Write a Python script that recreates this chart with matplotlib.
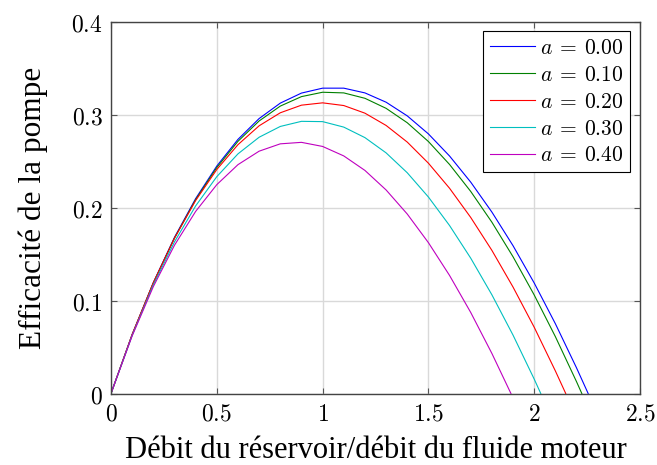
import matplotlib
matplotlib.use("Agg")
import matplotlib.pyplot as plt

plt.rcParams["mathtext.fontset"] = "cm"

# Flow ratio samples (reservoir flow / motive flow) for each curve
x_a000 = [0.0, 0.1, 0.2, 0.3, 0.4, 0.5, 0.6, 0.7, 0.8, 0.9, 1.0, 1.1, 1.2,
          1.3, 1.4, 1.5, 1.6, 1.7, 1.8, 1.9, 2.0, 2.1, 2.2, 2.255]
y_a000 = [0.0, 0.0634, 0.1193, 0.1680, 0.2097, 0.2447, 0.2734, 0.2958,
          0.3124, 0.3232, 0.3285, 0.3285, 0.3234, 0.3134, 0.2987, 0.2793,
          0.2555, 0.2274, 0.1952, 0.1590, 0.1189, 0.0751, 0.0276, 0.0]

x_a010 = [0.0, 0.1, 0.2, 0.3, 0.4, 0.5, 0.6, 0.7, 0.8, 0.9, 1.0, 1.1, 1.2,
          1.3, 1.4, 1.5, 1.6, 1.7, 1.8, 1.9, 2.0, 2.1, 2.2, 2.225]
y_a010 = [0.0, 0.0632, 0.1188, 0.1672, 0.2085, 0.2431, 0.2713, 0.2932,
          0.3092, 0.3194, 0.3241, 0.3234, 0.3176, 0.3068, 0.2913, 0.2711,
          0.2464, 0.2174, 0.1843, 0.1471, 0.1060, 0.0612, 0.0127, 0.0]

x_a020 = [0.0, 0.1, 0.2, 0.3, 0.4, 0.5, 0.6, 0.7, 0.8, 0.9, 1.0, 1.1, 1.2,
          1.3, 1.4, 1.5, 1.6, 1.7, 1.8, 1.9, 2.0, 2.1, 2.149]
y_a020 = [0.0, 0.0637, 0.1192, 0.1671, 0.2076, 0.2410, 0.2677, 0.2880,
          0.3020, 0.3102, 0.3127, 0.3098, 0.3016, 0.2884, 0.2705, 0.2478,
          0.2208, 0.1894, 0.1540, 0.1145, 0.0713, 0.0243, 0.0]

x_a030 = [0.0, 0.1, 0.2, 0.3, 0.4, 0.5, 0.6, 0.7, 0.8, 0.9, 1.0, 1.1, 1.2,
          1.3, 1.4, 1.5, 1.6, 1.7, 1.8, 1.9, 2.0, 2.031]
y_a030 = [0.0, 0.0625, 0.1168, 0.1631, 0.2018, 0.2333, 0.2578, 0.2757,
          0.2873, 0.2928, 0.2925, 0.2866, 0.2753, 0.2589, 0.2375, 0.2114,
          0.1807, 0.1456, 0.1062, 0.0628, 0.0155, 0.0]

x_a040 = [0.0, 0.1, 0.2, 0.3, 0.4, 0.5, 0.6, 0.7, 0.8, 0.9, 1.0, 1.1, 1.2,
          1.3, 1.4, 1.5, 1.6, 1.7, 1.8, 1.89]
y_a040 = [0.0, 0.0620, 0.1150, 0.1595, 0.1959, 0.2247, 0.2462, 0.2607,
          0.2686, 0.2702, 0.2658, 0.2556, 0.2400, 0.2190, 0.1931, 0.1623,
          0.1270, 0.0872, 0.0431, 0.0]

series_labels = [r"$a\:=\:0.00$", r"$a\:=\:0.10$", r"$a\:=\:0.20$",
                 r"$a\:=\:0.30$", r"$a\:=\:0.40$"]
series_colors = ["b", "g", "r", "c", "m"]

x_ticks = [0, 0.5, 1, 1.5, 2, 2.5]
x_tick_labels = ["$0$", "$0.5$", "$1$", "$1.5$", "$2$", "$2.5$"]
y_ticks = [0, 0.1, 0.2, 0.3, 0.4]
y_tick_labels = ["$0$", "$0.1$", "$0.2$", "$0.3$", "$0.4$"]

xs = [x_a000, x_a010, x_a020, x_a030, x_a040]
ys = [y_a000, y_a010, y_a020, y_a030, y_a040]

fig = plt.figure(figsize=(6.57, 4.65), dpi=100)
ax = fig.add_axes([111 / 657, 1 - 393.5 / 465, 529 / 657, 371.8 / 465])

for xv, yv, lab, col in zip(xs, ys, series_labels, series_colors):
    ax.plot(xv, yv, color=col, lw=0.8, label=lab)

ax.set_xlim(0, 2.5)
ax.set_ylim(0, 0.4)
ax.set_xticks(x_ticks)
ax.set_xticklabels(x_tick_labels, fontsize=17)
ax.set_yticks(y_ticks)
ax.set_yticklabels(y_tick_labels, fontsize=17)
ax.grid(True, color="#d9d9d9", lw=1.0)
ax.set_axisbelow(True)
ax.tick_params(direction="in", length=4, width=0.8, color="#555555",
               top=True, right=True, pad=6)
for sp in ax.spines.values():
    sp.set_color("#444444")
    sp.set_linewidth(1.0)

ax.set_xlabel("Débit du réservoir/débit du fluide moteur",
              family="Liberation Serif", fontsize=22, labelpad=7.5)
ax.set_ylabel("Efficacité de la pompe",
              family="Liberation Serif", fontsize=22.5, labelpad=17)

leg = ax.legend(loc="upper right", fontsize=15.5, frameon=True, fancybox=False,
                borderaxespad=0.45, handlelength=2.1, handletextpad=0.25,
                labelspacing=0.32, borderpad=0.3, framealpha=1.0)
leg.get_frame().set_edgecolor("black")
leg.get_frame().set_linewidth(0.8)

fig.savefig("out.png", dpi=100)
